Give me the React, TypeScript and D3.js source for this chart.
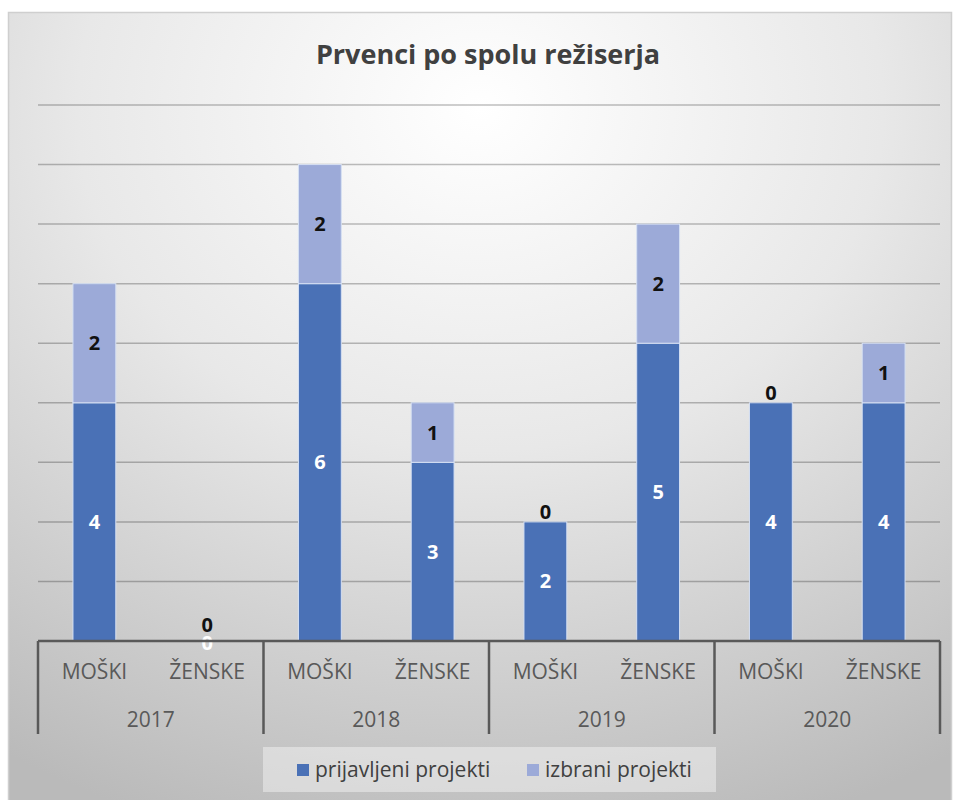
import React, { useEffect } from 'react';
import * as d3 from 'd3';

// chart data
const years = ['2017', '2018', '2019', '2020'];
const genders = ['MOŠKI', 'ŽENSKE'];
const prijavljeni = [4, 0, 6, 3, 2, 5, 4, 4];
const izbrani = [2, 0, 2, 1, 0, 2, 0, 1];
const yTicks = [0, 1, 2, 3, 4, 5, 6, 7, 8, 9];
const seriesNames = ['prijavljeni projekti', 'izbrani projekti'];
const seriesColors = ['#4a71b6', '#9caad8'];

const W = 959;
const H = 800;
const FONT = '"Open Sans", sans-serif';

const App: React.FC = () => {
  useEffect(() => {
    document.body.style.margin = '0';
  }, []);

  const left = 38;
  const right = 940;
  const top = 105;
  const bottom = 641;

  const cats = years.flatMap(y => genders.map(g => `${y}|${g}`));
  const x = d3.scaleBand<string>()
    .domain(cats)
    .range([left, right])
    .paddingInner(0.62)
    .paddingOuter(0.31);
  const yearX = d3.scaleBand<string>().domain(years).range([left, right]);
  const y = d3.scaleLinear().domain([0, 9]).range([bottom, top]);

  const stacked = cats.map((c, i) => ({
    key: c,
    p: prijavljeni[i],
    s: izbrani[i],
  }));

  return (
    <svg width={W} height={H} style={{ display: 'block', fontFamily: FONT }}>
      <defs>
        <radialGradient id="bg" cx="50%" cy="12%" r="95%" fx="50%" fy="12%">
          <stop offset="0%" stopColor="#ffffff" />
          <stop offset="45%" stopColor="#e8e8e8" />
          <stop offset="100%" stopColor="#bababa" />
        </radialGradient>
      </defs>
      <rect x={0} y={0} width={W} height={H} fill="#ffffff" />
      <rect x={8.5} y={12.5} width={943} height={800} fill="url(#bg)" stroke="#cfcfcf" strokeWidth={1.5} />

      {/* title */}
      <text x={488} y={64} textAnchor="middle" fontSize={27} fontWeight={700} fill="#404040">
        Prvenci po spolu režiserja
      </text>

      {/* gridlines */}
      {yTicks.filter(t => t > 0).map(t => (
        <line key={t} x1={left} x2={right} y1={y(t)} y2={y(t)} stroke="#000" strokeOpacity={0.25} strokeWidth={1.5} />
      ))}

      {/* bars */}
      {stacked.map(d => (
        <g key={d.key}>
          {d.p > 0 && (
            <rect x={x(d.key)} y={y(d.p)} width={x.bandwidth()} height={y(0) - y(d.p)}
              fill={seriesColors[0]} stroke="#d6e0f3" strokeWidth={1} />
          )}
          {d.s > 0 && (
            <rect x={x(d.key)} y={y(d.p + d.s)} width={x.bandwidth()} height={y(d.p) - y(d.p + d.s)}
              fill={seriesColors[1]} stroke="#d6e0f3" strokeWidth={1} />
          )}
        </g>
      ))}

      {/* data labels */}
      {stacked.map(d => {
        const cx = (x(d.key) as number) + x.bandwidth() / 2;
        const py = d.p === 0 ? y(0) + 2 : (y(0) + y(d.p)) / 2;
        let sy = (y(d.p) + y(d.p + d.s)) / 2;
        if (d.s === 0) sy = y(d.p) - (d.p === 0 ? 16 : 10);
        return (
          <g key={d.key} fontSize={20} fontWeight={700} textAnchor="middle">
            <text x={cx} y={py} dy="0.35em" fill="#ffffff">{d.p}</text>
            <text x={cx} y={sy} dy="0.35em" fill="#111111">{d.s}</text>
          </g>
        );
      })}

      {/* category axis */}
      <line x1={left} x2={right} y1={bottom} y2={bottom} stroke="#595959" strokeWidth={2.5} />
      {years.concat(['end']).map((yr, i) => {
        const xx = i < years.length ? (yearX(yr) as number) : right;
        return <line key={yr} x1={xx} x2={xx} y1={bottom} y2={734} stroke="#595959" strokeWidth={2.5} />;
      })}
      {cats.map(c => (
        <text key={c} x={(x(c) as number) + x.bandwidth() / 2} y={679} textAnchor="middle"
          fontSize={21} fill="#595959">
          {c.split('|')[1]}
        </text>
      ))}
      {years.map(yr => (
        <text key={yr} x={(yearX(yr) as number) + yearX.bandwidth() / 2} y={727} textAnchor="middle"
          fontSize={21} fill="#595959">
          {yr}
        </text>
      ))}

      {/* legend */}
      <rect x={263} y={747} width={453} height={45} fill="#ffffff" fillOpacity={0.4} />
      {seriesNames.map((n, i) => {
        const lx = i === 0 ? 297 : 527;
        return (
          <g key={n}>
            <rect x={lx} y={764} width={12} height={12} fill={seriesColors[i]} />
            <text x={lx + 18} y={777} fontSize={21} fill="#404040">{n}</text>
          </g>
        );
      })}
    </svg>
  );
};

export default App;
